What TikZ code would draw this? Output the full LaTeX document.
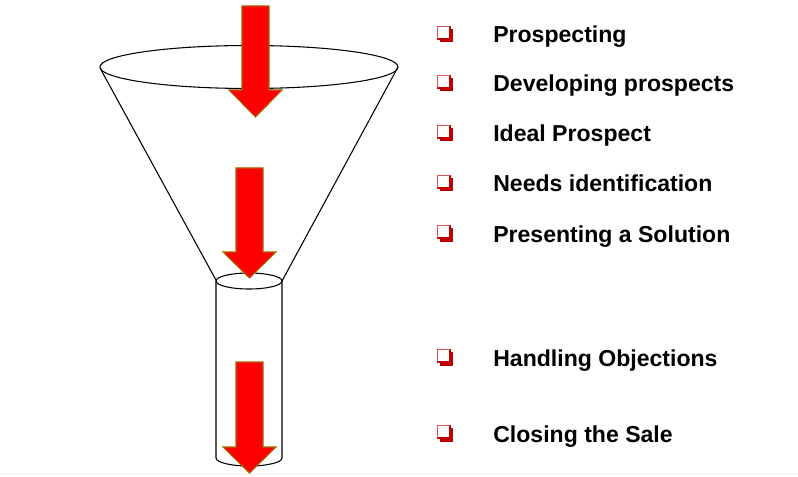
\documentclass[tikz,border=0pt]{standalone}
\usepackage{fontspec}
\setmainfont{Liberation Sans}
\usetikzlibrary{positioning}
\definecolor{FunRed}{RGB}{255,0,0}
\definecolor{FunEdge}{RGB}{170,100,0}
\definecolor{BulDark}{RGB}{192,0,0}
\definecolor{BulLight}{RGB}{220,80,80}
\tikzset{
  funnelline/.style={black, line width=0.8pt},
  arrowbody/.style={fill=FunRed, draw=FunEdge, line width=0.8pt, line join=miter},
  stage/.style={anchor=base west, inner sep=0pt,
                font=\fontsize{17.3}{20}\selectfont\bfseries},
}
\begin{document}
\begin{tikzpicture}[x=0.75pt, y=-0.75pt]
  % page frame
  \fill[white] (0,0) rectangle (798,477);
  \useasboundingbox (0,0) rectangle (798,477);
  \draw[gray!12] (0,474) -- (798,474);

  % ---- Funnel ----
  \draw[funnelline] (249,67) ellipse [x radius=149, y radius=21.5];
  \draw[funnelline] (100,68) -- (216.5,281);
  \draw[funnelline] (398,67) -- (282,281);
  % neck of the funnel
  \draw[funnelline] (249,281) ellipse [x radius=33, y radius=8];
  \draw[funnelline] (216,281) -- (216,458) arc (180:0:33 and 8) -- (282,281);

  % ---- Red block arrows ----
  \foreach \cx/\top/\neck/\tip in {255.5/6/90/117, 249.5/168/252/278,
                                   249.5/362/447/473} {
    \filldraw[arrowbody] (\cx-13.5,\top) -- (\cx+13.5,\top) -- (\cx+13.5,\neck)
      -- (\cx+26.5,\neck) -- (\cx,\tip) -- (\cx-26.5,\neck)
      -- (\cx-13.5,\neck) -- cycle;
  }

  % ---- Stages with bullets ----
  \foreach \nm/\y/\txt in {prosp/35/Prospecting, devel/84/Developing prospects,
                           ideal/134/Ideal Prospect, needs/184/Needs identification,
                           prsnt/234/Presenting a Solution,
                           objct/358/Handling Objections, close/434/Closing the Sale} {
    \fill[BulDark] (440,\y-6) rectangle (453,\y+7.5);
    \filldraw[fill=white, draw=BulDark, line width=1pt] (437.5,\y-8.5) rectangle (450,\y+4);
    \draw[BulLight, line width=1pt] (437.5,\y+4) -- (437.5,\y-8.5) -- (450,\y-8.5);
    \node[stage] (\nm) at (493,\y+8) {\txt};
  }
\end{tikzpicture}
\end{document}
